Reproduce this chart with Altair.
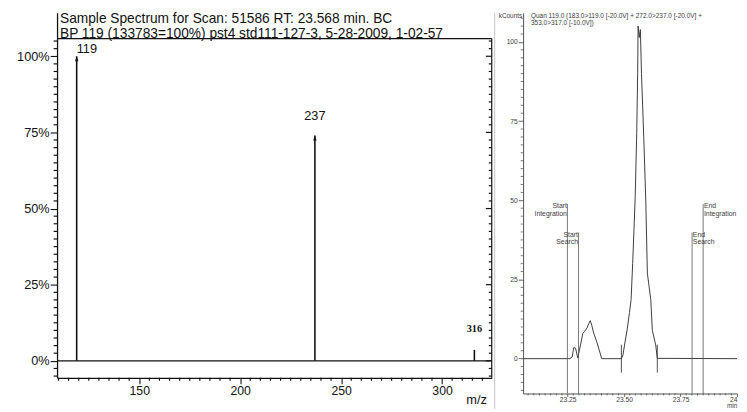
import altair as alt
import pandas as pd

# ================= Left panel: mass spectrum =================
mz = [119, 237, 316]
intensity = [100, 74, 3.6]
peak_text = ["119", "237", "316"]

spec_title_1 = "Sample Spectrum for Scan: 51586 RT: 23.568 min. BC"
spec_title_2 = "BP 119 (133783=100%) pst4 std111-127-3, 5-28-2009, 1-02-57"
mz_axis_title = "m/z"

pct_major = [0, 25, 50, 75, 100]
pct_minor = [-5 + 2.5 * i for i in range(45)]
mz_major = [150, 200, 250, 300]
mz_minor = [110 + 5 * i for i in range(43)]

# ================= Right panel: chromatogram =================
rt = [23.053, 23.259, 23.270, 23.277, 23.285, 23.295, 23.307, 23.317, 23.325, 23.336,
      23.343, 23.350, 23.357, 23.364, 23.379, 23.401,
      23.488, 23.495, 23.502, 23.514, 23.524, 23.531, 23.538, 23.549, 23.556, 23.560,
      23.562, 23.567, 23.572, 23.577, 23.587, 23.596, 23.603, 23.618, 23.625, 23.640,
      23.647, 24.000]
kcounts = [0, 0, 0.5, 3.5, 3.3, 0.2, 4.3, 7.9, 8.6, 9.7,
           11.0, 12.0, 10.5, 8.4, 5.3, 0,
           0, 1.2, 4.3, 9.4, 14.6, 18.7, 30.1, 50.7, 71.4, 90.0,
           105.0, 101.4, 103.9, 90.0, 69.9, 49.7, 27.0, 18.7, 8.9, 4.3,
           0.1, 0]

event_rt = [23.249, 23.298, 23.801, 23.850]
event_top = [48.8, 39.8, 39.8, 48.8]
event_word1 = ["Start", "Start", "End", "End"]
event_word2 = ["Integration", "Search", "Search", "Integration"]
event_side = ["start", "start", "end", "end"]
marker_rt = [23.488, 23.647]
marker_hi = [4.4, 4.4]
marker_lo = [-4.4, -4.4]

kc_major = [0, 25, 50, 75, 100]
kc_minor = [-10 + 2.5 * i for i in range(48)]
rt_major = [23.25, 23.5, 23.75, 24.0]
rt_minor = [round(23.075 + 0.025 * i, 3) for i in range(38)]

chrom_unit = "kCounts"
chrom_title_1 = "Quan  119.0 (183.0>119.0 [-20.0V] + 272.0>237.0 [-20.0V] +"
chrom_title_2 = "353.0>317.0 [-10.0V])"
rt_unit = "min"

# ================= layout =================
FONT = "Liberation Sans"
INK = "#111111"
GREY = "#3c3c3c"

L_XD = [109.28, 324.6]
L_YD = [-5.57, 114.27]
L_W, L_H = 443, 372
L_HEADER = 105.8
LPX = L_W / (L_XD[1] - L_XD[0])   # px per m/z unit
LPY = L_H / (L_YD[1] - L_YD[0])   # px per %

R_XD = [23.053, 24.0]
R_YD = [-11.0, 109.2]
R_W, R_H = 218, 388
R_SEP_X = 22.927
RPX = R_W / (R_XD[1] - R_XD[0])
RPY = R_H / (R_YD[1] - R_YD[0])

XL = alt.Scale(domain=L_XD, nice=False, zero=False)
YL = alt.Scale(domain=L_YD, nice=False, zero=False)
XR = alt.Scale(domain=R_XD, nice=False, zero=False)
YR = alt.Scale(domain=R_YD, nice=False, zero=False)


def qx(field, scale):
    return alt.X(field, type="quantitative", scale=scale, axis=None)


def qy(field, scale):
    return alt.Y(field, type="quantitative", scale=scale, axis=None)


def ax(**kw):
    base = dict(title=None, grid=False, labelOverlap=False)
    base.update(kw)
    return alt.Axis(**base)


class Segments:
    """collects straight segments (x..x2, y..y2) in data units"""

    def __init__(self):
        self.x, self.x2, self.y, self.y2 = [], [], [], []

    def add(self, x1, x2, y1, y2):
        self.x.append(x1)
        self.x2.append(x2)
        self.y.append(y1)
        self.y2.append(y2)

    def frame(self):
        return pd.DataFrame({"x": self.x, "x2": self.x2, "y": self.y, "y2": self.y2})


# ---------- left panel layers ----------
peaks_df = pd.DataFrame({"mz": mz, "inten": intensity, "label": peak_text})

peaks = alt.Chart(peaks_df).mark_rule(color=INK, strokeWidth=1.6).encode(
    x=alt.X("mz:Q", scale=XL, axis=ax(
        orient="bottom", values=mz_major, tickSize=6,
        tickWidth=1.1, tickColor=INK, labelFontSize=12.5, labelFont=FONT,
        labelColor=INK, labelPadding=1, labelFlush=False,
        domain=True, domainColor=INK, domainWidth=1.3)),
    y=alt.Y("inten:Q", scale=YL, axis=ax(
        orient="left", values=pct_major, tickSize=7,
        labelExpr="datum.value + '%'",
        tickWidth=1.1, tickColor=INK, labelFontSize=13, labelFont=FONT,
        labelColor=INK, labelPadding=1, labelFlush=False,
        domain=True, domainColor=INK, domainWidth=1.3)),
    y2=alt.datum(0),
)

segL = Segments()
segL.add(L_XD[0], L_XD[1], 0, 0)                       # 0 % baseline
segL.add(L_XD[0], L_XD[1], L_HEADER, L_HEADER)         # header rule
segL.add(L_XD[1], L_XD[1], L_YD[0], L_HEADER)          # right frame line
for v in pct_minor:
    if v not in pct_major:
        segL.add(L_XD[0] - 3.5 / LPX, L_XD[0], v, v)   # minor ticks, left axis
    inward = 6 if v in pct_major else 3
    segL.add(L_XD[1] - inward / LPX, L_XD[1], v, v)    # inward ticks, right frame
for v in mz_minor:
    if v not in mz_major:
        segL.add(v, v, L_YD[0] - 3 / LPY, L_YD[0])     # minor ticks, m/z axis

frame = alt.Chart(segL.frame()).mark_rule(color=INK, strokeWidth=1.2).encode(
    x=qx("x", XL), x2="x2:Q", y=qy("y", YL), y2="y2:Q")

arrows = alt.Chart(peaks_df.iloc[:2]).mark_point(
    shape="M0,0L0.5,1.5L-0.5,1.5Z", filled=True, color=INK, size=45, opacity=1, strokeWidth=0
).encode(x=qx("mz", XL), y=qy("inten", YL))

lbl_119 = alt.Chart(peaks_df.iloc[[0]]).mark_text(
    align="left", baseline="middle", dx=0, dy=-7, font=FONT, fontSize=13, color=INK
).encode(x=qx("mz", XL), y=qy("inten", YL), text="label:N")
lbl_237 = alt.Chart(peaks_df.iloc[[1]]).mark_text(
    align="center", baseline="middle", dy=-20, font=FONT, fontSize=13, color=INK
).encode(x=qx("mz", XL), y=qy("inten", YL), text="label:N")
lbl_316 = alt.Chart(peaks_df.iloc[[2]]).mark_text(
    align="center", baseline="middle", dy=-21, font="Liberation Serif", fontSize=10.5,
    fontWeight="bold", color=INK
).encode(x=qx("mz", XL), y=qy("inten", YL), text="label:N")

hdr_df = pd.DataFrame({"x0": [L_XD[0]], "hdr": [L_HEADER],
                       "t1": [spec_title_1], "t2": [spec_title_2]})
hdr1 = alt.Chart(hdr_df).mark_text(
    align="left", baseline="middle", dx=3, dy=-19.5, font=FONT, fontSize=14, color=INK
).encode(x=qx("x0", XL), y=qy("hdr", YL), text="t1:N")
hdr2 = alt.Chart(hdr_df).mark_text(
    align="left", baseline="middle", dx=3, dy=-4.8, font=FONT, fontSize=14, color=INK
).encode(x=qx("x0", XL), y=qy("hdr", YL), text="t2:N")

mz_df = pd.DataFrame({"x1": [L_XD[1]], "y0": [L_YD[0]], "t": [mz_axis_title]})
mz_lbl = alt.Chart(mz_df).mark_text(
    align="right", baseline="middle", dx=-5, dy=23, font=FONT, fontSize=13, color=INK
).encode(x=qx("x1", XL), y=qy("y0", YL), text="t:N")

left = alt.layer(
    peaks, frame, arrows, lbl_119, lbl_237, lbl_316, hdr1, hdr2, mz_lbl
).resolve_axis(x="independent", y="independent").properties(width=L_W, height=L_H)

# ---------- right panel layers ----------
trace_df = pd.DataFrame({"rt": rt, "kc": kcounts, "i": list(range(len(rt)))})
ev_df = pd.DataFrame({"rt": event_rt, "top": event_top, "w1": event_word1,
                      "w2": event_word2, "side": event_side, "bot": [R_YD[0]] * 4})
mk_df = pd.DataFrame({"rt": marker_rt, "hi": marker_hi, "lo": marker_lo})
rframe_df = pd.DataFrame({"x0": [R_XD[0]], "x1": [R_XD[1]], "top": [R_YD[1]],
                          "bot": [R_YD[0]], "sep": [R_SEP_X], "sepbot": [-15.9],
                          "u": [chrom_unit], "t1": [chrom_title_1], "t2": [chrom_title_2],
                          "m": [rt_unit]})

trace = alt.Chart(trace_df).mark_line(color=GREY, strokeWidth=1, interpolate="linear").encode(
    x=alt.X("rt:Q", scale=XR, axis=ax(
        orient="bottom", values=rt_major, tickSize=3,
        labelExpr="datum.value >= 24 ? '24' : format(datum.value, '.2f')",
        tickWidth=0.8, tickColor=GREY, labelFontSize=6.8, labelFont=FONT,
        labelColor=GREY, labelPadding=0.5, labelFlush=True, domain=True,
        domainColor=GREY, domainWidth=0.9)),
    y=alt.Y("kc:Q", scale=YR, axis=ax(
        orient="left", values=kc_major, tickSize=5,
        tickWidth=0.8, tickColor=GREY, labelFontSize=6.8, labelFont=FONT,
        labelColor=GREY, labelPadding=1, labelFlush=False,
        domain=True, domainColor=GREY, domainWidth=0.9)),
    order="i:Q",
)

segR = Segments()
for v in kc_minor:
    if v not in kc_major:
        segR.add(R_XD[0] - 2.5 / RPX, R_XD[0], v, v)
for v in rt_minor:
    if v not in rt_major:
        segR.add(v, v, R_YD[0] - 2 / RPY, R_YD[0])
r_ticks = alt.Chart(segR.frame()).mark_rule(color=GREY, strokeWidth=0.7).encode(
    x=qx("x", XR), x2="x2:Q", y=qy("y", YR), y2="y2:Q")

events = alt.Chart(ev_df).mark_rule(color="#555555", strokeWidth=0.8).encode(
    x=qx("rt", XR), y=qy("top", YR), y2="bot:Q")


def ev_text(side, field, dy):
    align = "right" if side == "start" else "left"
    dx = -0.5 if side == "start" else 0.8
    return alt.Chart(ev_df).transform_filter(
        alt.datum.side == side
    ).mark_text(align=align, baseline="middle", dx=dx, dy=dy, font=FONT, fontSize=7,
                color=GREY).encode(x=qx("rt", XR), y=qy("top", YR), text=f"{field}:N")


ev_texts = [ev_text("start", "w1", 2), ev_text("start", "w2", 10),
            ev_text("end", "w1", 2), ev_text("end", "w2", 10)]

markers = alt.Chart(mk_df).mark_rule(color=GREY, strokeWidth=0.9).encode(
    x=qx("rt", XR), y=qy("hi", YR), y2="lo:Q")

separator = alt.Chart(rframe_df).mark_rule(color="#c4c4c4", strokeWidth=1).encode(
    x=qx("sep", XR), y=qy("top", YR), y2="sepbot:Q")

unit_txt = alt.Chart(rframe_df).mark_text(
    align="right", baseline="middle", dx=-1, dy=3.5, font=FONT, fontSize=6.5, color=GREY
).encode(x=qx("x0", XR), y=qy("top", YR), text="u:N")
ct1 = alt.Chart(rframe_df).mark_text(
    align="left", baseline="middle", dx=8, dy=3.5, font=FONT, fontSize=6.6, color=GREY
).encode(x=qx("x0", XR), y=qy("top", YR), text="t1:N")
ct2 = alt.Chart(rframe_df).mark_text(
    align="left", baseline="middle", dx=8, dy=10.5, font=FONT, fontSize=6.6, color=GREY
).encode(x=qx("x0", XR), y=qy("top", YR), text="t2:N")
min_txt = alt.Chart(rframe_df).mark_text(
    align="center", baseline="middle", dx=-5, dy=13, font=FONT, fontSize=6.5, color=GREY
).encode(x=qx("x1", XR), y=qy("bot", YR), text="m:N")

right = alt.layer(
    trace, r_ticks, events, *ev_texts, markers, separator, unit_txt, ct1, ct2, min_txt
).resolve_axis(x="independent", y="independent").properties(width=R_W, height=R_H)

chart = alt.hconcat(left, right, spacing=32, bounds="flush").properties(
    padding={"left": 8, "top": 0, "right": 0, "bottom": 0}, background="white"
).configure_view(strokeWidth=0).configure_axis(grid=False)

chart.save("out.html", embed_options={"renderer": "svg", "actions": False})
